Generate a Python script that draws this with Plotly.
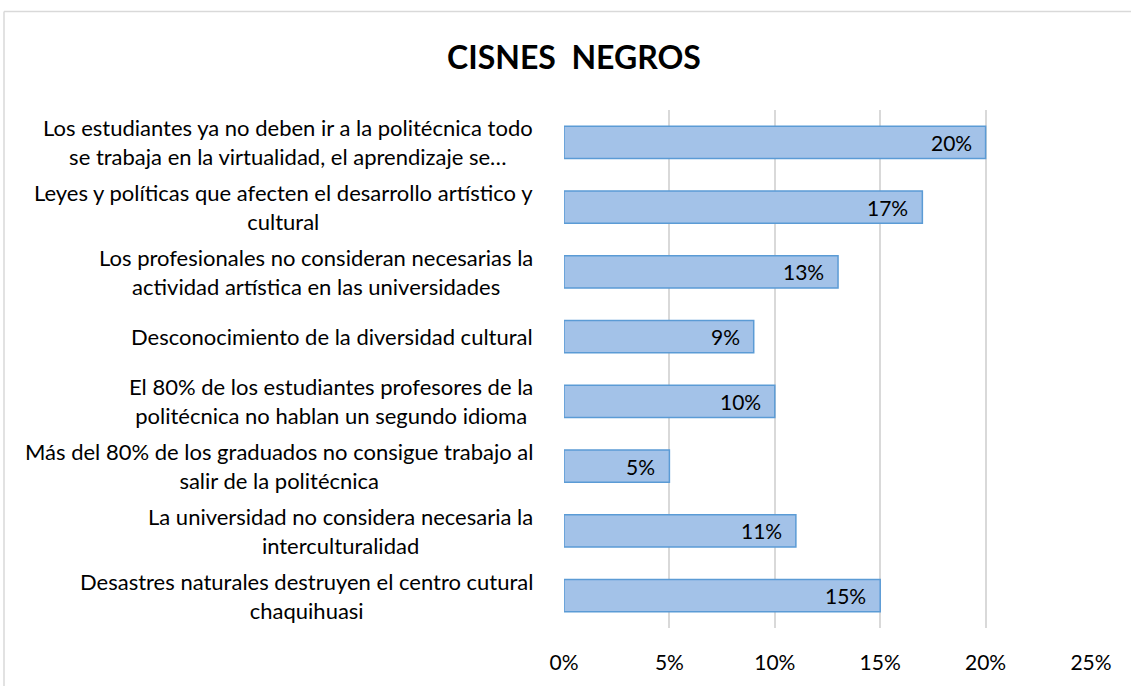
import plotly.graph_objects as go

categories = [
    "Los estudiantes ya no deben ir a la politécnica todo<br>se trabaja en la virtualidad, el aprendizaje se…",
    "Leyes y políticas que afecten el desarrollo artístico y<br>cultural",
    "Los profesionales no consideran necesarias la<br>actividad artística en las universidades",
    "Desconocimiento de la diversidad cultural",
    "El 80% de los estudiantes profesores de la<br>politécnica no hablan un segundo idioma",
    "Más del 80% de los graduados no consigue trabajo al<br>salir de la politécnica",
    "La universidad no considera necesaria la<br>interculturalidad",
    "Desastres naturales destruyen el centro cutural<br>chaquihuasi",
]
values = [0.20, 0.17, 0.13, 0.09, 0.10, 0.05, 0.11, 0.15]
tick_vals = [0, 0.05, 0.10, 0.15, 0.20, 0.25]
title = "CISNES NEGROS"

FONT = "Lato, Carlito, Calibri, sans-serif"
ids = list(range(len(categories)))

fig = go.Figure()
fig.add_trace(go.Bar(
    y=ids, x=values, orientation="h",
    marker=dict(color="#a3c2e8", line=dict(color="#5b9bd5", width=1.5)),
    width=0.5, hoverinfo="skip",
))

annotations = []
for i, (c, v) in enumerate(zip(categories, values)):
    annotations.append(dict(
        x=0, xref="paper", y=i, yref="y", text=c, showarrow=False,
        xanchor="right", yanchor="middle", align="center", xshift=-29,
        font=dict(family=FONT, size=22, color="#000000"),
    ))
    annotations.append(dict(
        x=v, xref="x", y=i, yref="y", text=f"{round(v*100)}%", showarrow=False,
        xanchor="right", yanchor="middle", xshift=-12,
        font=dict(family=FONT, size=21, color="#000000"),
    ))

# outer chart frame (top and left edges)
shapes = [
    dict(type="line", xref="paper", yref="paper", x0=(4-564)/527, x1=2, y0=(630-11)/520, y1=(630-11)/520,
         line=dict(color="#d9d9d9", width=1.5)),
    dict(type="line", xref="paper", yref="paper", x0=(4-564)/527, x1=(4-564)/527, y0=-1, y1=(630-11)/520,
         line=dict(color="#d9d9d9", width=1.5)),
]

fig.update_layout(
    width=1131, height=686,
    margin=dict(l=564, r=40, t=110, b=56),
    paper_bgcolor="white", plot_bgcolor="white",
    showlegend=False,
    title=dict(text=f"<b>{title.replace(' ', '&nbsp;&nbsp;')}</b>", x=574/1131, xanchor="center", y=1-58/686, yanchor="middle",
               font=dict(family=FONT, size=32, color="#000000")),
    xaxis=dict(range=[0, 0.25], tickvals=tick_vals, tickformat=".0%",
               showgrid=True, gridcolor="#d9d9d9", gridwidth=1.5, zeroline=False,
               showline=False, ticks="", tickfont=dict(family=FONT, size=21, color="#000000"),
               fixedrange=True),
    yaxis=dict(range=[len(categories)-0.5, -0.5], showticklabels=False, showgrid=False,
               zeroline=False, showline=False, ticks=""),
    annotations=annotations, shapes=shapes,
)
fig.update_xaxes(ticklabelstandoff=20)

fig.write_html("out.html")
